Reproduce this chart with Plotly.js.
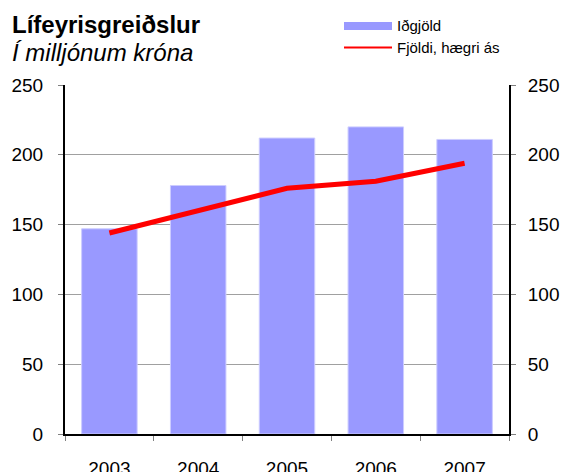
<!DOCTYPE html>
<html><head><meta charset="utf-8">
<script src="https://cdn.plot.ly/plotly-3.0.1.min.js"></script>
<style>html,body{margin:0;padding:0;background:#fff}#chart{width:563px;height:472px}</style>
</head><body><div id="chart"></div>
<script>
const years = ['2003','2004','2005','2006','2007'];
const idgjold = [147, 178, 212, 220, 211];
const fjoldi = [144, 160, 176, 181, 194];
const barName = 'Iðgjöld';
const lineName = 'Fjöldi, hægri ás';
const titleText = 'Lífeyrisgreiðslur';
const subtitleText = 'Í milljónum króna';
const yTicks = [0, 50, 100, 150, 200, 250];

const font = 'Arial, "Liberation Sans", sans-serif';
const W = 563, H = 472, L = 65, R = 54, T = 85, B = 38;
const pw = W - L - R, ph = H - T - B;
const px = v => (v - L) / pw;
const py = v => (H - B - v) / ph;

const data = [
  {type:'bar', x: years, y: idgjold, name: barName, yaxis:'y',
   marker:{color:'#9999ff', line:{color:'#ccccff', width:1}}, showlegend:false},
  {type:'scatter', mode:'lines', x: years, y: fjoldi, name: lineName, yaxis:'y2',
   line:{color:'#ff0000', width:5}, showlegend:false}
];

const layout = {
  width: W, height: H,
  margin:{l:L, r:R, t:T, b:B},
  paper_bgcolor:'#fff', plot_bgcolor:'#fff',
  font:{family: font, color:'#000', size:19},
  bargap: 0.375,
  xaxis:{type:'category', showline:true, linecolor:'#000', linewidth:2,
    ticks:'outside', tickson:'boundaries', ticklen:5, tickcolor:'#808080',
    tickfont:{size:19}, ticklabelstandoff:16, showgrid:false, fixedrange:true},
  yaxis:{range:[0,250], tickvals:yTicks, showline:true, linecolor:'#000', linewidth:2,
    ticks:'outside', ticklen:5, tickcolor:'#808080', tickfont:{size:19},
    ticklabelstandoff:11,
    showgrid:true, gridcolor:'#a0a0a0', gridwidth:1, zeroline:false},
  yaxis2:{range:[0,250], tickvals:yTicks, overlaying:'y', side:'right',
    showline:true, linecolor:'#000', linewidth:2, ticks:'outside', ticklen:5,
    tickcolor:'#808080', tickfont:{size:19}, ticklabelstandoff:8,
    showgrid:false, zeroline:false},
  shapes:[
    {type:'rect', xref:'paper', yref:'paper', x0:px(344), x1:px(392), y0:py(30), y1:py(22),
     fillcolor:'#9999ff', line:{width:0}},
    {type:'line', xref:'paper', yref:'paper', x0:px(344), x1:px(392), y0:py(47.5), y1:py(47.5),
     line:{color:'#ff0000', width:2}}
  ],
  annotations:[
    {xref:'paper', yref:'paper', x:px(395), y:py(25.5), xanchor:'left', yanchor:'middle',
     text: barName, showarrow:false, font:{size:15}},
    {xref:'paper', yref:'paper', x:px(395), y:py(47.5), xanchor:'left', yanchor:'middle',
     text: lineName, showarrow:false, font:{size:15}},
    {xref:'paper', yref:'paper', x:px(10), y:py(25), xanchor:'left', yanchor:'middle',
     text:'<b>'+titleText+'</b>', showarrow:false, font:{size:24}},
    {xref:'paper', yref:'paper', x:px(10), y:py(53), xanchor:'left', yanchor:'middle',
     text:'<i>'+subtitleText+'</i>', showarrow:false, font:{size:24}}
  ]
};
Plotly.newPlot('chart', data, layout, {displayModeBar:false, staticPlot:true});
</script></body></html>
